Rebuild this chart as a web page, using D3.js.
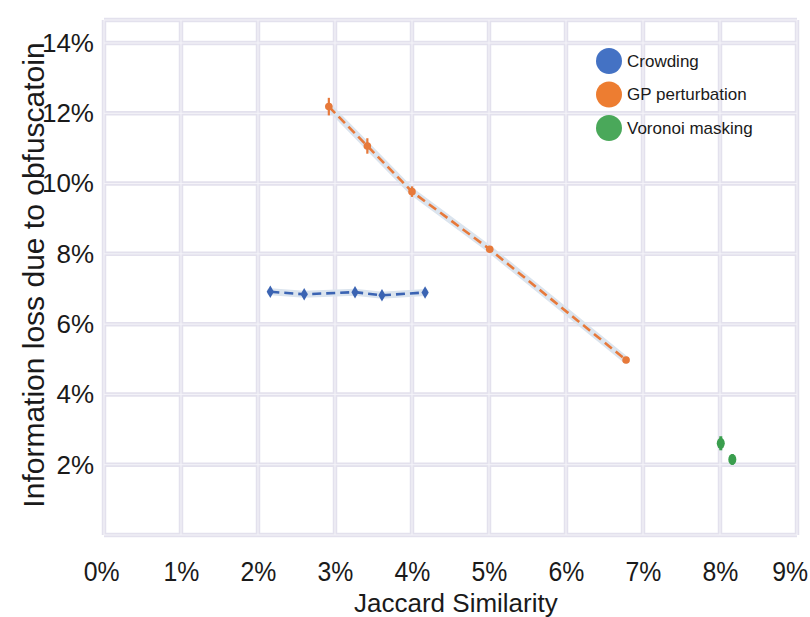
<!DOCTYPE html>
<html>
<head>
<meta charset="utf-8">
<script src="https://cdn.jsdelivr.net/npm/d3@7"></script>
<style>
  body { margin: 0; background: #fff; }
  svg { display: block; font-family: "Liberation Sans", Arial, sans-serif; }
</style>
</head>
<body>
<div id="chart"></div>
<script>
// values (percent)
const xTicks = [0, 1, 2, 3, 4, 5, 6, 7, 8, 9];
const yTicks = [2, 4, 6, 8, 10, 12, 14];

const crowdX = [2.16, 2.60, 3.26, 3.61, 4.17];
const crowdY = [6.92, 6.85, 6.91, 6.82, 6.90];

const gpX = [2.92, 3.42, 4.00, 5.01, 6.78];
const gpY = [12.19, 11.07, 9.77, 8.13, 4.98];
const gpErr = [0.25, 0.22, 0.15, 0.08, 0.05];

const voronoiX = [8.01, 8.16];
const voronoiY = [2.61, 2.15];
const voronoiErr = [0.2, 0.15];

const seriesNames = ["Crowding", "GP perturbation", "Voronoi masking"];
const seriesColors = ["#4472c4", "#ed7d31", "#4aa85a"];

const width = 810;
const height = 617;

const svg = d3.select("#chart")
  .append("svg")
  .attr("width", width)
  .attr("height", height);

const x = d3.scaleLinear().domain([0, 9]).range([104, 797]);
const y = d3.scaleLinear().domain([0, 14]).range([535, 43]);
const gridTop = 20;

// grid - drawn as a lavender band with a lighter centre
const grid = svg.append("g");
function gridLines(stroke, w) {
  grid.append("g").selectAll("line")
    .data(xTicks)
    .join("line")
      .attr("x1", d => x(d)).attr("x2", d => x(d))
      .attr("y1", gridTop).attr("y2", y(0))
      .attr("stroke", stroke).attr("stroke-width", w);
  grid.append("g").selectAll("line")
    .data([0].concat(yTicks).concat([null]))
    .join("line")
      .attr("x1", x(0)).attr("x2", x(9))
      .attr("y1", d => d === null ? gridTop : y(d))
      .attr("y2", d => d === null ? gridTop : y(d))
      .attr("stroke", stroke).attr("stroke-width", w);
}
gridLines("#e3e1ed", 4.5);
gridLines("#f5f4f9", 1);

// axes
const xAxis = svg.append("g")
  .attr("transform", `translate(0,${y(0) + 24})`)
  .call(d3.axisBottom(x).tickValues(xTicks).tickFormat(d => d + "%").tickSize(0))
  .call(g => g.select(".domain").remove());
xAxis.selectAll("text")
  .attr("font-size", "27px")
  .attr("font-family", "Liberation Sans, Arial, sans-serif")
  .attr("fill", "#1a1a1a")
  .attr("dx", d => d === 9 ? -8 : d === 0 ? -3 : 0)
  .attr("transform", "scale(0.92,1)");

const yAxis = svg.append("g")
  .attr("transform", `translate(${x(0) - 7},0)`)
  .call(d3.axisLeft(y).tickValues(yTicks).tickFormat(d => d + "%").tickSize(0))
  .call(g => g.select(".domain").remove());
yAxis.selectAll("text")
  .attr("font-size", "26px")
  .attr("font-family", "Liberation Sans, Arial, sans-serif")
  .attr("fill", "#1a1a1a");

svg.append("text")
  .attr("transform", `translate(${x(4.57)},612)`)
  .attr("text-anchor", "middle")
  .attr("font-size", "26px")
  .attr("fill", "#1a1a1a")
  .text("Jaccard Similarity");

svg.append("text")
  .attr("transform", "translate(44,275) rotate(-90)")
  .attr("text-anchor", "middle")
  .attr("font-size", "30px")
  .attr("fill", "#1a1a1a")
  .text("Information loss due to obfuscatoin");

// lines
const line = d3.line().x(d => x(d[0])).y(d => y(d[1]));
const crowd = d3.zip(crowdX, crowdY);
const gp = d3.zip(gpX, gpY, gpErr);
const vor = d3.zip(voronoiX, voronoiY, voronoiErr);

[[crowd, "#3b64b3"], [gp, "#e7793a"]].forEach(([pts, c]) => {
  svg.append("path").datum(pts)
    .attr("d", line).attr("fill", "none")
    .attr("stroke", "#dbe4ee").attr("stroke-width", 7)
    .attr("stroke-linecap", "round");
  svg.append("path").datum(pts)
    .attr("d", line).attr("fill", "none")
    .attr("stroke", c).attr("stroke-width", 2.6)
    .attr("stroke-dasharray", "9,5");
});

// crowding markers
svg.append("g").selectAll("path")
  .data(crowd)
  .join("path")
    .attr("transform", d => `translate(${x(d[0])},${y(d[1])})`)
    .attr("d", d3.symbol(d3.symbolDiamond, 45))
    .attr("fill", "#3b64b3");

// GP markers with error bars
svg.append("g").selectAll("line")
  .data(gp)
  .join("line")
    .attr("x1", d => x(d[0])).attr("x2", d => x(d[0]))
    .attr("y1", d => y(d[1] + d[2])).attr("y2", d => y(d[1] - d[2]))
    .attr("stroke", "#e7793a").attr("stroke-width", 2.2);
svg.append("g").selectAll("circle")
  .data(gp)
  .join("circle")
    .attr("cx", d => x(d[0])).attr("cy", d => y(d[1]))
    .attr("r", 3.8)
    .attr("fill", "#e7793a");

// Voronoi markers
svg.append("g").selectAll("line")
  .data(vor)
  .join("line")
    .attr("x1", d => x(d[0])).attr("x2", d => x(d[0]))
    .attr("y1", d => y(d[1] + d[2])).attr("y2", d => y(d[1] - d[2]))
    .attr("stroke", "#3a9e4e").attr("stroke-width", 3);
svg.append("g").selectAll("ellipse")
  .data(vor)
  .join("ellipse")
    .attr("cx", d => x(d[0])).attr("cy", d => y(d[1]))
    .attr("rx", 4).attr("ry", 5.5)
    .attr("fill", "#3a9e4e");

// legend
const legend = svg.append("g").attr("transform", "translate(609,61)");
const item = legend.selectAll("g")
  .data(seriesNames)
  .join("g")
    .attr("transform", (d, i) => `translate(0,${i * 33.5})`);
item.append("circle")
  .attr("r", 13)
  .attr("fill", (d, i) => seriesColors[i]);
item.append("text")
  .attr("x", 18)
  .attr("dy", "0.35em")
  .attr("font-size", "17px")
  .attr("fill", "#1a1a1a")
  .text(d => d);
</script>
</body>
</html>
